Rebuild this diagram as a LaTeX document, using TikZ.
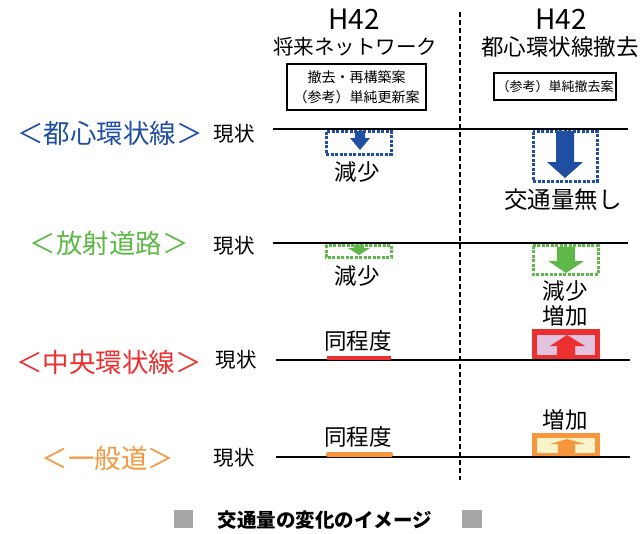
\documentclass[tikz,border=0pt]{standalone}
\usepackage{fontspec}
\setmainfont{Noto Sans CJK JP}
\usetikzlibrary{positioning}
\definecolor{shutoblue}{HTML}{1F4EA3}
\definecolor{radialgreen}{HTML}{5DB847}
\definecolor{centralred}{HTML}{EC3030}
\definecolor{centralpink}{HTML}{E2C2DE}
\definecolor{localorange}{HTML}{F7963C}
\definecolor{localcream}{HTML}{F8F3C8}
\definecolor{notegray}{HTML}{A6A6A6}
\tikzstyle{nowline} = [line width=2pt]
\tikzstyle{divider} = [line width=2pt, dash pattern=on 5pt off 3pt]
\tikzstyle{dotbox} = [line width=3pt, dash pattern=on 3pt off 1.5pt]
\tikzstyle{planbox} = [draw, line width=1.4pt, align=center, font=\fontsize{14}{20}\selectfont]
\tikzstyle{roadlbl} = [font=\fontsize{26.5}{30}\selectfont]
\tikzstyle{nowlbl} = [font=\fontsize{20.5}{22}\selectfont]
\tikzstyle{changelbl} = [font=\fontsize{22.5}{26}\selectfont]

\begin{document}
\begin{tikzpicture}[x=1pt,y=-1pt, every node/.style={inner sep=0pt}]
\useasboundingbox (0,0) rectangle (642,533);
% column headings
\node[font=\fontsize{28}{30}\selectfont] (h42net) at (354,19) {H42};
\node[font=\fontsize{20.5}{24}\selectfont] (netname) at (355,47) {将来ネットワーク};
\node[planbox, minimum width=139pt, minimum height=46pt] (netcase) at (356.5,87) {撤去・再構築案\\（参考）単純更新案};
\node[font=\fontsize{28}{30}\selectfont] (h42rem) at (561,19) {H42};
\node[font=\fontsize{22.5}{26}\selectfont] (remname) at (560,47) {都心環状線撤去};
\node[planbox, minimum width=122pt, minimum height=27pt, font=\fontsize{13}{16}\selectfont] (remcase) at (555,86.5) {（参考）単純撤去案};
\draw[divider] (460,12) -- (460,480);
% row labels
\node[roadlbl, text=shutoblue] (shuto) at (110,133) {＜都心環状線＞};
\node[roadlbl, text=radialgreen] (radial) at (109,243) {＜放射道路＞};
\node[roadlbl, text=centralred] (central) at (109,362) {＜中央環状線＞};
\node[roadlbl, text=localorange] (local) at (108,458) {＜一般道＞};
\node[nowlbl] (shutonow) at (234,134) {現状};
\node[nowlbl] (radialnow) at (234,246) {現状};
\node[nowlbl] (centralnow) at (236,360) {現状};
\node[nowlbl] (localnow) at (234,458) {現状};
% baselines of the present state
\draw[nowline] (273,129) -- (628,129);
\draw[nowline] (273,243) -- (628,243);
\draw[nowline] (276,360) -- (630,360);
\draw[nowline] (276,457) -- (630,457);
% shuto expressway
\draw[dotbox, shutoblue] (326,131.5) rectangle (391,154);
\fill[shutoblue] (355,131) -- (365,131) -- (365,138) -- (370,138) -- (360,150) -- (350,138) -- (355,138) -- cycle;
\node[changelbl] (shutonet) at (357,172) {減少};
\draw[dotbox, shutoblue] (533,131.5) rectangle (597,181);
\fill[shutoblue] (556,131) -- (574,131) -- (574,162) -- (583,162) -- (565,178) -- (547,162) -- (556,162) -- cycle;
\node[changelbl, font=\fontsize{23.5}{26}\selectfont] (shutorem) at (563,200) {交通量無し};
% radial roads
\draw[dotbox, radialgreen] (326,245) rectangle (391,257);
\fill[radialgreen] (354,245) -- (364,245) -- (364,248) -- (370,248) -- (359,255) -- (348,248) -- (354,248) -- cycle;
\node[changelbl] (radialnet) at (357,276) {減少};
\draw[dotbox, radialgreen] (533,245.5) rectangle (598,274);
\fill[radialgreen] (557,247) -- (575,247) -- (575,261) -- (584,261) -- (566,273) -- (548,261) -- (557,261) -- cycle;
\node[changelbl] (radialrem) at (565,291) {減少};
\node[changelbl, below=4pt of radialrem] (centralrem) {増加};
% central circular route
\node[changelbl] (centralnet) at (358,341) {同程度};
\fill[centralred] (327,356) rectangle (391,359.5);
\fill[centralred] (532,329) rectangle (600,359);
\fill[centralpink] (537,335) rectangle (595,355);
\fill[centralred] (557,359) -- (557,346) -- (550,346) -- (567,335) -- (585,346) -- (575,346) -- (575,359) -- cycle;
% local roads
\node[changelbl] (localnet) at (358,437) {同程度};
\fill[localorange, rounded corners=2pt] (326,457) -- (326,452) -- (393,452) -- (393,457) -- cycle;
\node[changelbl] (localrem) at (565,420) {増加};
\fill[localorange] (532,433) rectangle (600,456);
\fill[localcream] (537,438) rectangle (595,453);
\fill[localorange] (558,456) -- (558,444) -- (550,444) -- (567,439) -- (585,444) -- (575,444) -- (575,456) -- cycle;
% caption
\fill[notegray] (174,510) rectangle (193,528);
\fill[notegray] (462,510) rectangle (482,528);
\node[font=\fontsize{19.5}{22}\selectfont\bfseries] (caption) at (325,520) {交通量の変化のイメージ};
\end{tikzpicture}
\end{document}
